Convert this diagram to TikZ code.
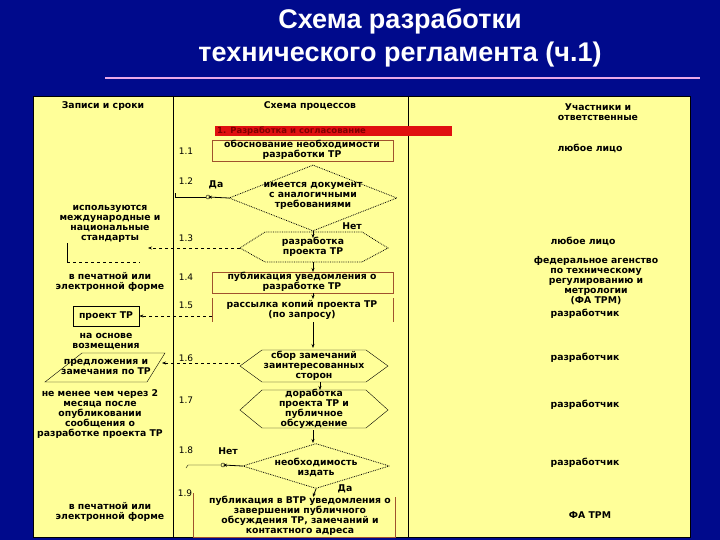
\documentclass[tikz,border=0pt]{standalone}
\usepackage{fontspec}
\setmainfont{Liberation Sans}
\newfontfamily\dejafont{DejaVu Sans}
\usetikzlibrary{shapes.geometric,arrows.meta}
\definecolor{bgblue}{HTML}{000A8C}
\definecolor{panel}{HTML}{FFFF99}
\definecolor{pinkline}{HTML}{E8A8E8}
\definecolor{boxbrown}{HTML}{A0522D}
\definecolor{barred}{HTML}{E01010}
\tikzset{
 t/.style={font=\dejafont\bfseries\fontsize{9.3}{10}\selectfont,align=center,inner sep=0pt},
 lab/.style={font=\dejafont\fontsize{9}{9}\selectfont,inner sep=0pt},
 box/.style={draw=boxbrown,thick},
 arr/.style={-{Stealth[length=4pt]},thick},
 darr/.style={-{Stealth[length=4pt]},dashed,thick},
}
\begin{document}
\begin{tikzpicture}[x=1pt,y=-1pt]
\useasboundingbox (0,0) rectangle (720,540);
\fill[bgblue] (0,0) rectangle (720,540);
\node[font=\bfseries\fontsize{27}{33}\selectfont,white,align=center] (title) at (400,38) {Схема разработки\\технического регламента (ч.1)};
\draw[pinkline,line width=2.5pt] (105,78) -- (700,78);
\fill[panel] (33,96) rectangle (690,537);
\draw[thick] (33,96) rectangle (690,537);
\draw (173,96) -- (173,537) (408,96) -- (408,537);
% headers
\node[t] (h1) at (103,106) {Записи и сроки};
\node[t] (h2) at (310,106) {Схема процессов};
\node[t] (h3) at (598,112) {Участники и\\ответственные};
\fill[barred] (215,126) rectangle (452,136);
\node[lab,font=\dejafont\bfseries\fontsize{8.5}{9}\selectfont,text=red!50!black,anchor=west] (bar) at (217,131) {1. Разработка и согласование};
% 1.1
\node[lab] (l11) at (186,151) {1.1};
\draw[box] (212,140) rectangle (393,161);
\node[t] (b11) at (302,150) {обоснование необходимости\\разработки ТР};
% 1.2
\node[diamond,draw,densely dotted,thick,minimum width=168pt,minimum height=66pt,aspect=2.5,inner sep=0pt] (d12) at (313,198) {};
\node[t] at (313,196) {имеется документ\\с аналогичными\\требованиями};
\node[lab] (l12) at (186,181) {1.2};
\node[t] (da1) at (216,185) {Да};
\coordinate (c12) at (208,197);
\draw[arr] (d12.west) -- (c12);
\draw (c12) circle (2pt);
\draw (206,197) -- (175,197) -- (175,193);
\draw[arr] (d12.south) -- (313,238);
\node[t] (net1) at (352,226) {Нет};
% 1.3
\node[lab] (l13) at (186,238) {1.3};
\draw[densely dotted,thick] (240,248) -- (265,232) -- (362,232) -- (388,248) -- (362,262) -- (265,262) -- cycle;
\coordinate (h13w) at (240,248);
\node[t] (b13) at (313,247) {разработка\\проекта ТР};
\node[t] (std) at (110,224) {используются\\международные и\\национальные\\стандарты};
\coordinate (std1) at (148,248);
\draw[darr] (h13w) -- (std1);
\draw (67,243) -- (67,262);
\draw[dashed] (67,262) -- (140,262);
\node[t] (pf1) at (110,282) {в печатной или\\электронной форме};
% 1.4
\draw[arr] (313,262) -- (313,272);
\node[lab] (l14) at (186,277) {1.4};
\draw[box] (212,272) rectangle (393,293);
\node[t] (b14) at (302,282) {публикация уведомления о\\разработке ТР};
% 1.5
\draw[arr] (313,293) -- (313,299);
\node[lab] (l15) at (186,305) {1.5};
\draw[box] (212,298) -- (212,322) (393,298) -- (393,322);
\node[t] (b15) at (302,310) {рассылка копий проекта ТР\\(по запросу)};
\node[t,draw,thick,minimum width=66pt,minimum height=20pt] (pr) at (106,316) {проект ТР};
\draw[darr] (212,316) -- (pr.east);
\node[t] (vz) at (106,342) {на основе\\возмещения};
% 1.6
\draw[arr] (313,322) -- (313,348);
\node[lab] (l16) at (186,358) {1.6};
\draw[thin] (240,366) -- (262,350) -- (366,350) -- (388,366) -- (366,382) -- (262,382) -- cycle;
\node[t] (b16) at (314,366) {сбор замечаний\\заинтересованных\\сторон};
\draw[thin] (82,353) -- (165,353) -- (147,382) -- (45,382) -- cycle;
\node[t] (pz) at (106,367) {предложения и\\замечания по ТР};
\draw[darr] (240,363) -- (162,363);
% 1.7
\draw[arr] (320,382) -- (320,390);
\node[lab] (l17) at (186,400) {1.7};
\draw[thin] (240,410) -- (262,390) -- (366,390) -- (388,410) -- (366,428) -- (262,428) -- cycle;
\node[t] (b17) at (314,409) {доработка\\проекта ТР и\\публичное\\обсуждение};
\node[t] (nm) at (100,414) {не менее чем через 2\\месяца после\\опубликовании\\сообщения о\\разработке проекта ТР};
% 1.8
\draw[arr] (313,430) -- (313,443);
\node[diamond,draw,densely dotted,thick,minimum width=147pt,minimum height=45pt,aspect=3.2,inner sep=0pt] (d18) at (316,466) {};
\node[t] at (316,467) {необходимость\\издать};
\node[lab] (l18) at (186,450) {1.8};
\node[t] (net2) at (228,451) {Нет};
\coordinate (c18) at (223,465);
\draw[arr] (d18.west) -- (c18);
\draw (c18) circle (2pt);
\draw (221,465) -- (188,465) -- (186,468);
\node[t] (da2) at (345,489) {Да};
\draw[arr] (d18.south) -- (313,497);
% 1.9
\node[lab] (l19) at (185,493) {1.9};
\draw[box] (193,493) -- (193,537) -- (395,537) -- (395,497);
\node[t] (b19) at (300,516) {публикация в ВТР уведомления о\\завершении публичного\\обсуждения ТР, замечаний и\\контактного адреса};
\node[t] (pf2) at (110,512) {в печатной или\\электронной форме};
% right column
\node[t] (r1) at (590,148) {любое лицо};
\node[t] (r2) at (583,241) {любое лицо};
\node[t] (r3) at (596,281) {федеральное агенство\\по техническому\\регулированию и\\метрологии\\(ФА ТРМ)};
\node[t] (r4) at (585,314) {разработчик};
\node[t] (r5) at (585,358) {разработчик};
\node[t] (r6) at (585,405) {разработчик};
\node[t] (r7) at (585,463) {разработчик};
\node[t] (r8) at (590,515) {ФА ТРМ};
\end{tikzpicture}
\end{document}
